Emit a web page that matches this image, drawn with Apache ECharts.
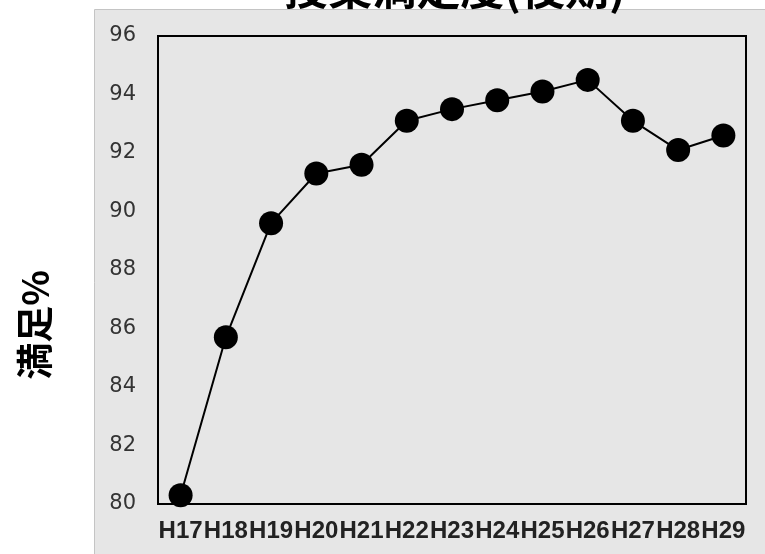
<!DOCTYPE html>
<html>
<head>
<meta charset="utf-8">
<script src="https://cdn.jsdelivr.net/npm/echarts@6/dist/echarts.min.js"></script>
<style>
  html, body { margin: 0; padding: 0; background: #ffffff; }
  #chart { width: 765px; height: 554px; }
</style>
</head>
<body>
<div id="chart"></div>
<script>
// Fiscal years (Heisei) and satisfaction percentages
const years = ['H17', 'H18', 'H19', 'H20', 'H21', 'H22', 'H23', 'H24', 'H25', 'H26', 'H27', 'H28', 'H29'];
const satisfaction = [80.3, 85.7, 89.6, 91.3, 91.6, 93.1, 93.5, 93.8, 94.1, 94.5, 93.1, 92.1, 92.6];
const titleText = '授業満足度(後期)';
const yName = '満足%';

const chart = echarts.init(document.getElementById('chart'), null, { renderer: 'canvas' });

chart.setOption({
  animation: false,
  backgroundColor: '#ffffff',
  graphic: [
    {
      type: 'rect',
      z: -10,
      shape: { x: 94.5, y: 9.5, width: 680, height: 560 },
      style: { fill: '#e6e6e6', stroke: '#c4c4c4', lineWidth: 1 }
    },
    {
      type: 'text',
      z: 10,
      style: {
        text: titleText,
        x: 455,
        y: -34,
        align: 'center',
        verticalAlign: 'top',
        font: 'bold 44px "Noto Sans CJK JP"',
        fill: '#000000'
      }
    },
    {
      type: 'text',
      z: 10,
      x: 35,
      y: 325,
      rotation: Math.PI / 2,
      style: {
        text: yName,
        x: 0,
        y: 0,
        align: 'center',
        verticalAlign: 'middle',
        font: 'bold 37px "Noto Sans CJK JP"',
        fill: '#000000'
      }
    }
  ],
  grid: {
    left: 158,
    right: 19,
    top: 36,
    bottom: 50,
    show: true,
    backgroundColor: '#e6e6e6',
    borderColor: '#000000',
    borderWidth: 2
  },
  xAxis: {
    type: 'category',
    data: years,
    boundaryGap: true,
    axisLine: { show: false },
    axisTick: { show: false },
    splitLine: { show: false },
    axisLabel: {
      interval: 0,
      margin: 15,
      color: '#222222',
      fontFamily: '"Liberation Sans", Arial, sans-serif',
      fontWeight: 'bold',
      fontSize: 24
    }
  },
  yAxis: {
    type: 'value',
    min: 80,
    max: 96,
    interval: 2,
    axisLine: { show: false },
    axisTick: { show: false },
    splitLine: { show: false },
    axisLabel: {
      margin: 22,
      color: '#333333',
      fontFamily: '"DejaVu Sans", sans-serif',
      fontSize: 21
    }
  },
  series: [
    {
      type: 'line',
      data: satisfaction,
      symbol: 'circle',
      symbolSize: 24,
      itemStyle: { color: '#000000' },
      lineStyle: { color: '#000000', width: 2 }
    }
  ]
});
</script>
</body>
</html>
